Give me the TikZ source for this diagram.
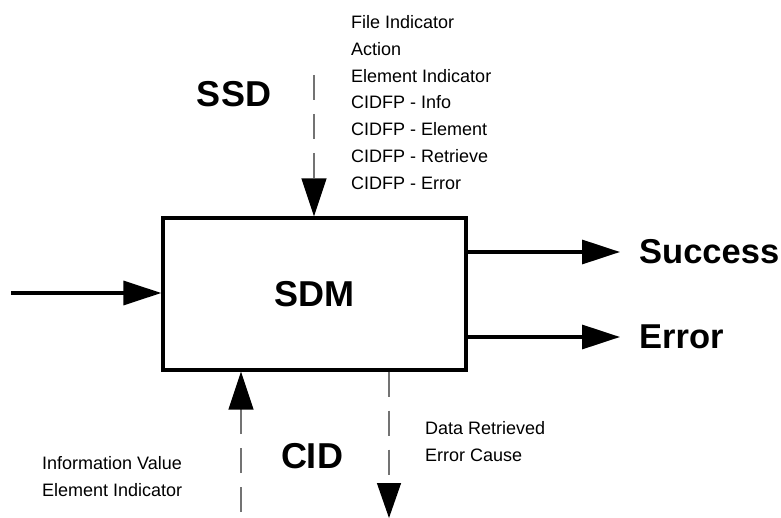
\documentclass[tikz,border=0pt]{standalone}
\usepackage{fontspec}
\setmainfont{Liberation Sans}
\usetikzlibrary{arrows.meta}

\tikzset{
  bigarrow/.style={line width=3.3pt, -{Triangle[length=38pt,width=24pt]}},
  flowarrow/.style={line width=1.4pt, draw=black!55, dash pattern=on 25pt off 14pt,
    -{Triangle[length=38pt,width=25pt,black]}},
  biglabel/.style={font=\fontsize{36}{43}\selectfont\bfseries, inner sep=0pt},
  outlabel/.style={font=\fontsize{34.5}{41}\selectfont\bfseries, inner sep=0pt, anchor=west},
  smalllist/.style={font=\fontsize{18}{26.8}\selectfont, align=left, inner sep=0pt, anchor=west},
  modulebox/.style={draw, line width=3.3pt, minimum width=303pt, minimum height=152pt,
    font=\fontsize{36}{43}\selectfont\bfseries}
}

\begin{document}
\begin{tikzpicture}[x=1pt,y=-1pt]
  \useasboundingbox (0,0) rectangle (781,518);

  % central module
  \node[modulebox] (sdm) at (314.5,294) {SDM};

  % labels
  \node[biglabel] (ssd) at (234,94) {SSD};
  \node[biglabel] (cid) at (312,456) {CID};
  \node[outlabel] (succ) at (639,252) {Success};
  \node[outlabel] (err) at (639,337) {Error};

  \node[smalllist] (ssdlist) at (351,102.5) {File Indicator\\Action\\Element Indicator\\CIDFP - Info\\CIDFP - Element\\CIDFP - Retrieve\\CIDFP - Error};
  \node[smalllist] (inlist) at (42,476.5) {Information Value\\Element Indicator};
  \node[smalllist] (outlist) at (425,441.5) {Data Retrieved\\Error Cause};

  % free ends of connectors
  \coordinate (inlet) at (11,293);
  \coordinate (ssdtop) at (314,75);
  \coordinate (cidbot) at (241,512);
  \coordinate (cidout) at (389,518);

  % main data flow
  \draw[bigarrow] (inlet) -- (inlet -| sdm.west);
  \draw[bigarrow] (sdm.east |- succ.west) -- ([xshift=-19pt]succ.west);
  \draw[bigarrow] (sdm.east |- err.west) -- ([xshift=-19pt]err.west);

  % interface flows
  \draw[flowarrow] (ssdtop) -- (ssdtop |- sdm.north);
  \draw[flowarrow] (cidbot) -- (cidbot |- sdm.south);
  \draw[flowarrow, -{Triangle[length=35pt,width=24pt,black]}] (cidout |- sdm.south) -- (cidout);
\end{tikzpicture}
\end{document}
